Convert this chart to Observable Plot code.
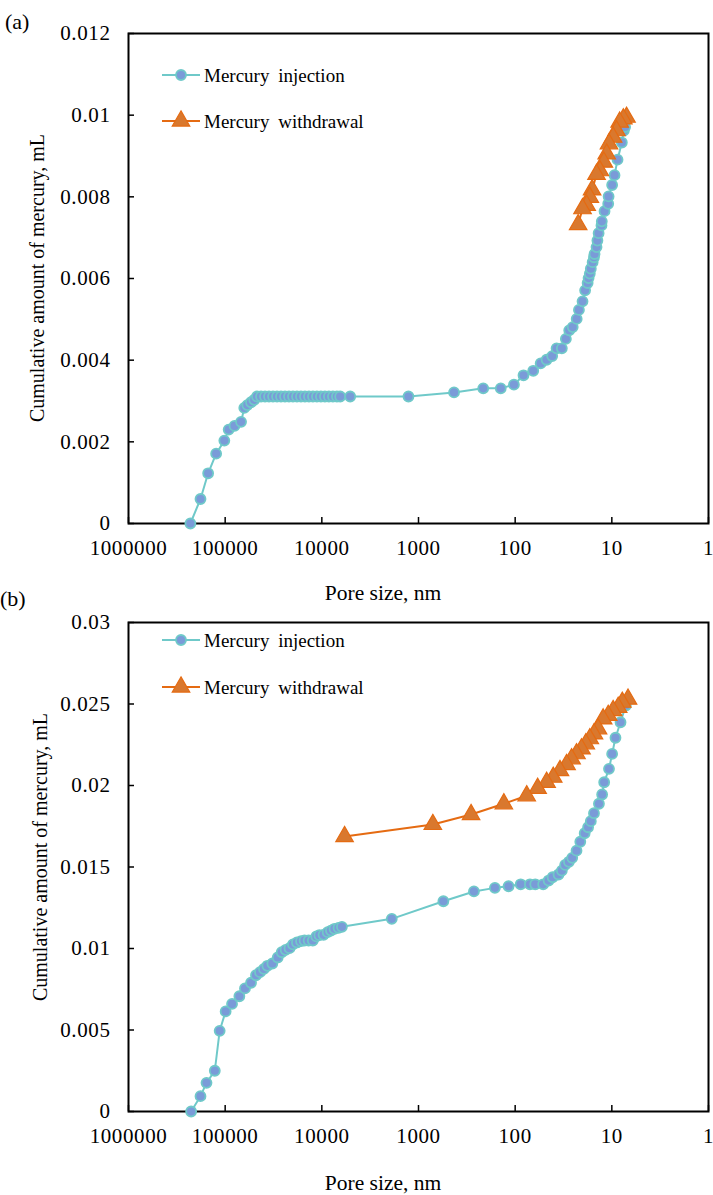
<!DOCTYPE html>
<html><head><meta charset="utf-8">
<script src="https://cdn.jsdelivr.net/npm/d3@7"></script>
<script src="https://cdn.jsdelivr.net/npm/@observablehq/plot@0.6"></script>
<style>
body{margin:0;background:#fff;}
#chart{position:relative;width:713px;height:1195px;overflow:hidden;}
#chart svg{display:block;overflow:visible;}
</style></head><body><div id="chart"></div>
<script>
// ---- tick labels ----
const xTicks = [1000000, 100000, 10000, 1000, 100, 10, 1];
const yTicksA = [0, 0.002, 0.004, 0.006, 0.008, 0.01, 0.012];
const yTicksB = [0, 0.005, 0.01, 0.015, 0.02, 0.025, 0.03];
const seriesNames = ["Mercury injection", "Mercury withdrawal"];
const panelLabels = ["(a)", "(b)"];
const xTitle = "Pore size, nm";
const yTitle = "Cumulative amount of mercury, mL";

// ---- panel (a) ----
const injA_size = [229000,180000,150000,124000,102000,92000,80000,68500,63400,59000,54000,50000,
  46830,42560,38700,35200,32000,29090,26450,24050,21870,19890,18080,16440,14950,13590,12360,11240,10220,9290,8450,7680,6980,6460,5090,1270,
  429,214,141,103,82,65,54.5,47.3,41.4,37.3,32.9,29.9,27.6,25.4,23.1,21.9,20.1,18.9,17.8,17.4,16.9,16.5,15.8,15.3,15.1,14.4,14.1,13.7,12.8,12.7,11.9,10.9,10.8,9.93,9.38,8.73,7.88,7.52,7.29];
const injA_vol = [0,0.0006,0.00123,0.00171,0.00203,0.0023,0.00239,0.00249,0.00283,0.0029,0.00297,0.00303,
  0.00311,0.00311,0.00311,0.00311,0.00311,0.00311,0.00311,0.00311,0.00311,0.00311,0.00311,0.00311,0.00311,0.00311,0.00311,0.00311,0.00311,0.00311,0.00311,0.00311,0.00311,0.00311,0.00311,0.00311,
  0.00321,0.00331,0.00331,0.0034,0.00363,0.00374,0.00392,0.00401,0.0041,0.00429,0.00429,0.00452,0.00473,0.00481,0.00501,0.00523,0.00544,0.00571,0.00589,0.00601,0.00612,0.00624,0.0064,0.00652,0.0066,0.00677,0.00693,0.00711,0.0073,0.0074,0.00765,0.00783,0.00801,0.00829,0.00853,0.00891,0.00933,0.00962,0.00971];
const wdA_size = [7.05,7.6,8.3,8.95,9.7,10.7,11.3,12.1,13.3,14.4,16.0,16.9,18.2,20.1,22.3];
const wdA_vol = [0.00995,0.00991,0.00983,0.00962,0.00946,0.0093,0.00905,0.00885,0.00864,0.00855,0.00817,0.00799,0.00779,0.00771,0.00732];

// ---- panel (b) ----
const injB_size = [225000,180000,156000,128000,114000,98900,84900,71300,62400,54000,48000,43600,39700,36600,32500,28600,26000,23700,21600,19900,18100,16400,15100,13700,12400,11400,10600,9600,8700,8050,7400,6720,6200,
  1890,553,267,162,117,87.7,70.3,62,51.3,45.1,41,35.6,32.9,30.4,27.8,25.7,23.2,21.2,19.1,17.6,16.5,15.3,13.6,12.6,12.0,10.7,9.93,9.17,8.13,7.17];
const injB_vol = [0,0.00094,0.00176,0.0025,0.00495,0.00614,0.0066,0.00707,0.00755,0.0079,0.00836,0.00855,0.00875,0.00894,0.00908,0.00945,0.00977,0.00992,0.01002,0.01025,0.01037,0.01045,0.01049,0.01049,0.01049,0.01074,0.01082,0.01084,0.011,0.0111,0.01121,0.01127,0.01133,
  0.01182,0.0129,0.0135,0.01372,0.01382,0.01394,0.01394,0.01394,0.01394,0.01417,0.01437,0.01454,0.01478,0.01513,0.01532,0.01556,0.016,0.01655,0.01707,0.01744,0.01781,0.0183,0.01888,0.01945,0.0202,0.02102,0.02194,0.02293,0.02388,0.02491];
const wdB_size = [6.8,7.8,8.6,9.7,10.9,12.3,13.9,15.3,16.9,18.6,20.6,23.2,26.1,29.4,34.4,40.4,47.3,58.6,76,131,286,711,5820];
const wdB_vol = [0.0253,0.02511,0.0248,0.0246,0.0243,0.02409,0.02348,0.02317,0.02287,0.02256,0.02225,0.02195,0.02164,0.02129,0.02092,0.02051,0.0202,0.01983,0.01937,0.01888,0.01822,0.01761,0.01687];

const TEAL = "#6FC9C9", BLUE = "#7A9BD8", ORANGE = "#E56B12", ORANGE_FILL = "#D9782E";
const FONT = "'Liberation Serif', 'Times New Roman', serif";

function makePanel(o) {
  const inj = o.injSize.map((x, i) => ({x, y: o.injVol[i]}));
  const wd = o.wdSize.map((x, i) => ({x, y: o.wdVol[i]}));
  const plot = Plot.plot({
    width: 713, height: o.height,
    marginTop: o.mt, marginBottom: o.mb, marginLeft: 128, marginRight: 5,
    style: {fontFamily: FONT, fontSize: "21px", color: "#000", background: "transparent", overflow: "visible", letterSpacing: "0.6px"},
    x: {type: "log", domain: [xTicks[0], xTicks[xTicks.length - 1]]},
    y: {domain: [o.yTicks[0], o.yTicks[o.yTicks.length - 1]]},
    marks: [
      Plot.axisX(xTicks, {tickSize: -6, tickPadding: 23, tickFormat: d => String(d), label: null, strokeWidth: 1.5}),
      Plot.axisY(o.yTicks, {tickSize: -6, tickPadding: 24, tickFormat: d => String(d), label: null, strokeWidth: 1.5}),
      Plot.frame({stroke: "#000", strokeWidth: 2}),
      Plot.line(inj, {x: "x", y: "y", stroke: TEAL, strokeWidth: 2}),
      Plot.dot(inj, {x: "x", y: "y", r: 5, fill: BLUE, stroke: TEAL, strokeWidth: 1.8}),
      Plot.line(wd, {x: "x", y: "y", stroke: ORANGE, strokeWidth: 2}),
      Plot.dot(wd, {x: "x", y: "y", symbol: "triangle", r: 6.5, fill: ORANGE_FILL, stroke: ORANGE, strokeWidth: 1.2})
    ]
  });
  const svg = d3.select(plot);
  const txt = (sel) => sel.attr("font-family", FONT).attr("letter-spacing", 0).attr("fill", "#000");
  svg.append("text").call(txt).attr("x", o.labelX).attr("y", o.labelY).attr("text-anchor", "start").attr("font-size", 22).text(o.label);
  svg.append("text").call(txt).attr("transform", `translate(${o.ytX},${o.ytY}) rotate(-90)`).attr("text-anchor", "middle")
    .attr("dominant-baseline", "central").attr("font-size", 20).text(yTitle);
  svg.append("text").call(txt).attr("x", 383).attr("y", o.xtY).attr("text-anchor", "middle")
    .attr("dominant-baseline", "central").attr("font-size", 21.5).text(xTitle);
  // legend
  const lg = svg.append("g");
  o.legY.forEach((ly, i) => {
    const col = i === 0 ? TEAL : ORANGE;
    lg.append("line").attr("x1", 162).attr("x2", 200).attr("y1", ly).attr("y2", ly).attr("stroke", col).attr("stroke-width", 2);
    if (i === 0) {
      lg.append("circle").attr("cx", 181).attr("cy", ly).attr("r", 5).attr("fill", BLUE).attr("stroke", TEAL).attr("stroke-width", 1.8);
    } else {
      lg.append("path").attr("transform", `translate(181,${ly})`).attr("d", d3.symbol(d3.symbolTriangle, Math.PI * 6.5 * 6.5)())
        .attr("fill", ORANGE_FILL).attr("stroke", ORANGE).attr("stroke-width", 1.2);
    }
    lg.append("text").call(txt).attr("x", 204).attr("y", ly).attr("text-anchor", "start").attr("font-size", 19)
      .attr("dominant-baseline", "central").attr("word-spacing", 4).text(seriesNames[i]);
  });
  return plot;
}

const chart = document.getElementById("chart");
chart.append(makePanel({
  injSize: injA_size, injVol: injA_vol, wdSize: wdA_size, wdVol: wdA_vol, yTicks: yTicksA,
  height: 600, mt: 33, mb: 77, label: panelLabels[0], labelX: 5, labelY: 29,
  ytX: 37, ytY: 278, xtY: 593, legY: [75, 121]
}));
chart.append(makePanel({
  injSize: injB_size, injVol: injB_vol, wdSize: wdB_size, wdVol: wdB_vol, yTicks: yTicksB,
  height: 595, mt: 22, mb: 84, label: panelLabels[1], labelX: 0, labelY: 6,
  ytX: 40, ytY: 257, xtY: 583, legY: [40, 87]
}));
</script></body></html>
